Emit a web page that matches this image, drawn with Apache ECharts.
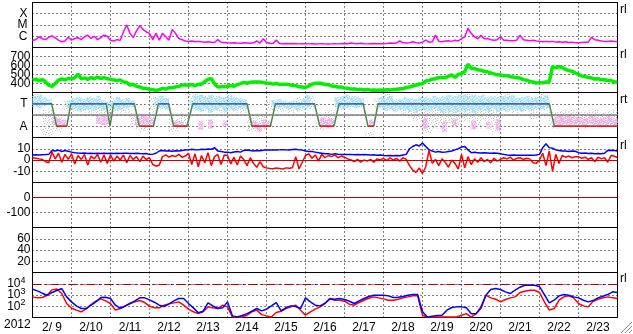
<!DOCTYPE html>
<html><head><meta charset="utf-8">
<script src="https://cdn.jsdelivr.net/npm/echarts@6/dist/echarts.min.js"></script>
<style>html,body{margin:0;padding:0;background:#fff}#c{width:633px;height:334px}</style>
</head><body><div id="c"></div>
<script>
// ---------- data ----------
const yearLabel = '2012';
const dateLabels = ['2/ 9','2/10','2/11','2/12','2/13','2/14','2/15','2/16','2/17','2/18','2/19','2/20','2/21','2/22','2/23'];
const rightTags = ['rl','rl','rt','rl','rl'];

// X-ray flux, 2-hour steps from 2/9 00:00
const xrayFlux = [
4.5e-7,5e-7,9e-7,6e-7,5e-7,8e-7,1.1e-6,7e-7,4.5e-7,3.2e-7,3.8e-7,8e-7,
4.5e-7,6.3e-7,7.5e-7,5e-7,9e-7,1.25e-6,6.3e-7,1e-6,5e-7,7.5e-7,1.25e-6,1e-6,
4.5e-7,3.8e-7,5e-7,4.5e-7,2.5e-6,1e-5,1.8e-6,7.8e-7,3e-6,9e-6,4e-6,2.5e-6,
1.8e-6,5e-7,1.8e-6,4.5e-7,1.8e-6,9e-7,4.5e-7,4e-6,1.8e-6,6.3e-7,5e-7,3.8e-7,
3.5e-7,3.8e-7,3.2e-7,3.5e-7,3.2e-7,3e-7,3.2e-7,3e-7,2.8e-7,5e-7,3e-7,2.8e-7,
2.6e-7,2.5e-7,2.7e-7,2.5e-7,2.4e-7,2.6e-7,2.5e-7,2.4e-7,2.6e-7,3.8e-7,2.5e-7,6e-7,
2.8e-7,2.4e-7,2.3e-7,4.5e-7,2.3e-7,2.2e-7,2.3e-7,2.2e-7,2.3e-7,2.2e-7,2.1e-7,2.2e-7,
2.2e-7,2.1e-7,2.2e-7,2.0e-7,2.1e-7,2.2e-7,2.1e-7,2.0e-7,2.1e-7,2.2e-7,2.1e-7,2.2e-7,
2.3e-7,2.2e-7,2.5e-7,2.3e-7,2.2e-7,2.4e-7,2.2e-7,2.1e-7,2.2e-7,2.3e-7,2.2e-7,2.2e-7,
2.2e-7,2.3e-7,2.5e-7,2.4e-7,2.5e-7,3.8e-7,2.6e-7,2.5e-7,2.7e-7,3.2e-7,2.6e-7,2.5e-7,
3e-7,4.5e-7,3e-7,3.2e-7,1.25e-6,3.5e-7,3.2e-7,3.8e-7,4e-7,3.5e-7,4.5e-7,3.8e-7,
6.3e-7,9e-7,5e-6,1.8e-6,9e-7,6e-7,1.2e-6,6e-7,6.3e-7,5e-7,4.5e-7,5e-7,
9e-7,4.5e-7,4.5e-7,4e-7,4e-7,4.5e-7,1.25e-6,5e-7,4.5e-7,4e-7,4.5e-7,3.8e-7,
3.5e-7,3.2e-7,3.5e-7,3.2e-7,3.5e-7,3e-7,3.2e-7,3e-7,3.2e-7,2.8e-7,3e-7,2.6e-7,
2.6e-7,2.8e-7,3e-7,3e-7,8e-7,5e-7,4.5e-7,3.8e-7,3.5e-7,3.5e-7,3.8e-7,3.5e-7,
3.5e-7];

// Solar wind speed (km/s), 2-hour steps
const windSpeed = [
438,448,430,444,420,380,368,400,438,452,440,458,
448,465,505,452,462,445,468,452,472,455,465,452,
448,438,432,440,418,412,382,392,368,362,348,346,
334,332,322,332,346,338,352,353,362,368,382,383,
380,388,375,392,393,422,445,458,398,360,364,368,
366,378,370,388,398,412,403,414,418,417,416,412,
403,402,393,402,390,392,393,387,378,377,363,362,
356,372,393,402,403,402,388,387,373,370,360,360,
350,347,338,340,333,335,328,334,326,328,326,327,
324,330,328,334,333,342,343,357,360,372,383,394,
398,428,435,448,452,468,467,463,482,495,468,502,
508,533,615,568,567,552,548,532,530,518,507,496,
494,486,487,476,472,463,460,443,437,423,417,406,
407,408,417,418,590,572,588,578,557,543,537,518,
502,483,477,468,462,450,452,443,442,433,432,418,
418];

// IMF sector polarity: vertices (day, +1 = T, -1 = A)
const polarityDay = [0,0.49,0.62,0.88,0.98,1.89,1.99,2.08,2.61,2.74,3.1,3.23,3.49,3.62,3.96,4.11,5.5,5.63,6.1,6.23,7.23,7.37,7.73,7.86,8.48,8.6,8.75,8.86,13.25,13.38,15];
const polaritySector = [1,1,-1,-1,1,1,-1,1,1,-1,-1,1,1,-1,-1,1,1,-1,-1,1,1,-1,-1,1,1,-1,-1,1,1,-1,-1];

// Angle clouds (3-hour bins), in sector units
const cyanLo = [
0.7,0.6,0.8,0.9,null,null,null,0.7,
0.5,0.3,0.4,0.5,0.3,0.6,0.4,0.6,
0.6,0.4,0.5,0.6,0.7,null,null,null,
null,0.8,0.6,0.5,null,null,null,null,
0.9,0.4,0.3,0.5,0.2,0.4,0.6,0.3,
0.5,0.4,0.6,0.5,null,null,null,null,
null,0.8,0.6,0.7,0.5,0.6,0.4,0.6,
0.5,null,null,null,null,null,0.7,0.5,
0.6,0.7,0.6,0.8,null,null,null,0.6,
0.4,0.5,0.3,0.5,0.4,0.3,0.2,0.4,
0.4,0.3,0.6,0.3,0.2,0.3,0.2,0.3,
0.3,0.4,0.2,0.3,0.4,0.3,0.5,0.3,
0.4,0.3,0.5,0.4,0.3,0.5,0.4,0.6,
0.5,0.6,null,null,null,null,null,null,
null,null,null,null,null,null,null,null];
const cyanHi = [
1.7,1.8,1.6,1.4,null,null,null,1.3,
1.5,1.6,1.4,1.6,1.5,1.7,1.3,1.2,
1.2,1.6,1.4,1.5,1.3,null,null,null,
null,1.5,1.7,1.5,null,null,null,null,
1.3,1.7,1.8,1.6,1.8,1.5,1.7,1.6,
1.8,1.6,1.5,1.4,null,null,null,null,
null,1.3,1.4,1.3,1.2,1.3,1.2,1.4,
1.8,null,null,null,null,null,1.6,1.7,
1.8,1.6,1.7,1.5,null,null,null,1.6,
1.5,1.7,1.3,1.4,1.6,1.5,1.4,1.6,
1.6,1.5,1.7,1.6,1.7,1.8,1.7,1.8,
1.8,1.7,1.8,1.7,1.8,1.6,1.7,1.6,
1.7,1.6,1.8,1.5,1.6,1.7,1.5,1.6,
1.6,1.7,null,null,null,null,null,null,
null,null,null,null,null,null,null,null];
const pinkLo = [
null,null,null,null,-0.9,-1.1,-0.9,null,
null,null,null,null,null,-0.8,-0.9,-0.9,
null,null,null,null,null,-0.9,-0.8,-0.9,
-0.8,null,null,null,null,-0.9,-1.0,null,
null,null,-1.3,null,-1.2,null,null,-1.0,
null,null,null,null,null,-1.2,-1.5,-1.1,
-1.0,null,null,null,null,null,null,null,
null,null,null,-1.0,-1.2,-0.9,null,null,
null,null,null,null,null,-1.0,null,null,
null,null,null,null,null,null,null,null,
-1.2,null,null,null,-1.5,null,-1.0,null,
null,null,-1.3,null,null,-1.2,null,-1.4,
null,null,null,null,null,null,null,null,
null,null,null,-1.0,-0.9,-0.8,-0.9,-0.8,
-0.9,-1.0,-0.8,-0.9,-0.9,-1.0,-0.8,-0.9];
const pinkHi = [
null,null,null,null,-0.2,-0.3,-0.4,null,
null,null,null,null,null,-0.1,0.0,-0.3,
null,null,null,null,null,-0.2,0.0,-0.1,
-0.2,null,null,null,null,-0.5,-0.6,null,
null,null,-0.5,null,-0.4,null,null,-0.5,
null,null,null,null,null,-0.5,-0.7,-0.4,
-0.5,null,null,null,null,null,null,null,
null,null,null,-0.2,-0.3,-0.3,null,null,
null,null,null,null,null,-0.4,null,null,
null,null,null,null,null,null,null,null,
-0.3,null,null,null,-0.6,null,-0.3,null,
null,null,-0.5,null,null,-0.6,null,-0.4,
null,null,null,null,null,null,null,null,
null,null,null,-0.1,0.0,-0.1,0.1,-0.2,
-0.2,-0.3,0.0,-0.2,-0.3,-0.2,-0.1,-0.3];
// gray cloud, 6-hour bins
const grayLo = [0.9,-1.9,-1.5,0.4, 0.3,0.2,0.0,-0.4, 0.3,0.2,-1.2,-1.5, 0.2,0.5,-1.5,-1.2, 0.6,0.3,0.4,0.2,
 0.3,0.2,-1.5,-1.3, 0.4,0.3,0.2,0.3, 0.5,-1.3,-0.8,0.6, 0.8,0.7,-1.9,0.6, 0.4,0.3,0.1,-0.5,
 -1.6,-1.2,-0.8,-1.0, -0.6,-1.2,-0.5,-1.5, 0.3,0.2,0.3,-0.4, 0.4,-1.2,-1.0,-0.9, -1.2,-0.8,-1.1,-0.9];
const grayHi = [1.9,0.5,0.1,1.3, 1.4,1.5,1.2,0.8, 1.5,1.3,0.2,-0.2, 1.6,1.4,-0.3,0.0, 1.9,1.8,1.7,1.6,
 1.5,1.3,-0.2,0.1, 1.3,1.2,1.1,1.6, 1.7,-0.3,0.4,1.5, 1.7,1.5,-1.5,1.5, 1.9,1.4,1.2,0.8,
 1.4,1.2,1.5,1.2, 1.9,1.3,1.4,1.2, 1.9,1.5,1.3,1.6, 1.9,0.3,0.4,0.5, 0.3,0.5,0.2,0.4];

// IMF Bt and Bz (nT), 2-hour steps
const btNT = [
4.5,4.6,4.5,4.7,4.8,5.0,8.5,8.0,8.8,7.6,8.4,7.8,
7.0,6.5,6.2,6.0,6.3,5.8,6.0,5.7,6.0,5.8,6.1,5.8,
6.0,5.8,6.1,5.7,5.9,6.0,5.7,5.8,6.1,5.8,5.6,5.8,
5.0,5.2,6.0,8.0,8.5,8.0,8.3,7.8,8.2,8.0,8.5,8.8,
9.0,9.5,9.2,9.0,9.5,9.3,9.8,9.5,11.0,8.0,7.5,7.0,
7.0,6.5,7.2,7.5,7.0,8.5,8.8,8.5,8.0,8.5,8.2,8.6,
9.0,8.8,9.0,8.9,9.0,9.2,9.0,8.8,9.3,9.5,9.0,8.8,
8.0,7.5,7.5,7.0,6.5,6.0,5.5,5.5,5.0,5.5,5.2,5.0,
5.0,4.8,5.0,4.7,4.8,4.6,4.8,4.7,4.5,4.6,4.3,4.4,
4.0,3.8,4.0,3.7,4.0,3.8,4.5,5.0,10.0,12.0,13.5,12.5,
15.0,12.0,9.0,8.0,7.0,7.5,6.8,7.0,7.5,8.0,9.0,10.0,
11.5,12.0,9.0,6.5,6.8,6.5,6.2,6.5,6.3,6.0,6.2,6.0,
5.5,5.0,4.5,4.3,4.4,4.3,4.2,4.3,4.3,4.2,4.3,4.4,
5.0,11.0,14.5,11.0,10.5,9.0,8.5,8.0,8.0,7.5,8.0,7.8,
6.5,6.0,6.3,5.8,6.0,5.5,5.8,5.5,6.0,8.5,8.7,8.5,
8.0];
const bzNT = [
2.0,1.5,1.0,0.5,-1.5,-2.5,7.0,1.0,6.0,-2.0,5.0,0.5,
5.5,-3.5,4.0,0.5,5.0,-4.5,3.5,1.0,5.0,-2.0,4.5,-3.0,
4.5,-1.0,3.5,0.0,4.5,-2.5,4.0,0.5,3.0,-1.5,3.5,0.5,
2.0,-4.0,-5.5,-4.5,3.0,4.5,2.5,4.0,3.0,5.0,2.5,3.5,
6.0,-4.0,5.5,-6.0,4.0,-2.5,6.5,-5.0,3.0,5.0,-4.0,4.5,
4.0,-3.5,2.5,-4.5,3.5,0.5,-5.0,2.0,-3.0,-6.5,-1.5,-6.0,
-7.0,-7.5,-7.8,-7.2,-7.6,-8.0,-7.0,-7.3,-6.8,3.0,-8.0,-2.0,
4.0,5.5,1.5,4.5,-1.0,5.0,2.0,4.0,3.0,4.5,2.0,3.5,
2.5,1.0,0.0,-1.5,0.5,-2.0,0.0,-1.0,0.5,-2.0,1.0,0.0,
1.5,-0.5,2.0,0.0,1.5,-1.0,2.0,0.5,-5.0,-9.0,-11.0,-7.0,
-12.0,-6.0,8.5,-3.0,0.5,-5.0,1.0,-2.0,-6.5,0.0,-3.0,-8.0,
5.0,-7.0,3.0,-4.0,1.0,-2.0,2.0,-1.5,0.5,-2.5,1.5,-1.0,
0.5,2.0,1.0,2.5,0.0,1.5,2.0,0.5,1.5,1.0,-2.5,-3.0,
0.0,6.0,-5.0,8.0,-10.0,5.0,-3.0,4.0,2.5,3.5,2.0,3.0,
3.0,1.5,2.5,0.5,2.0,-1.5,2.5,1.0,2.0,-2.0,4.0,3.5,
2.0];

// Electron flux, 3-hour steps
const electronBlue = [
3280,2330,1450,960,1660,2500,3760,680,
245,108,63,63,124,245,595,640,
485,124,67,101,175,300,556,556,
370,229,124,94,163,300,485,485,
175,72,26,36,200,108,63,72,
245,14,11,15,22,36,63,39,
55,108,214,39,77,108,94,63,
556,245,124,108,187,453,424,485,
395,280,175,300,485,731,960,960,
960,837,595,640,731,960,1100,1100,
32,11,13,15,16,45,77,88,
88,72,22,22,88,960,3060,3760,
3060,1900,1350,2670,4940,7430,7430,7430,
5660,1100,200,345,837,1100,960,680,
556,345,245,322,556,783,1100,1900,
1660];
const electronRed = [
680,556,595,960,2860,3400,1350,175,
67,45,32,58,142,280,453,300,
175,45,63,108,175,245,322,214,
101,72,72,124,163,200,245,124,
55,32,22,32,88,72,63,124,
88,11,11,11,16,32,45,18,
14,11,28,36,63,88,124,45,
16,32,55,88,175,485,345,345,
280,152,124,214,345,520,680,556,
453,345,345,424,556,680,837,837,
16,11,11,11,11,11,11,11,
16,22,11,22,63,960,556,424,
245,395,556,680,1660,2170,2670,2670,
1660,245,45,63,345,680,837,556,
175,108,88,280,424,556,680,556,
485];

const xrayLetters = {'-6':'C','-5':'M','-4':'X'};
const sectorLetters = {'1':'T','-1':'A'};

// ---------- chart ----------
const FONT = 'Liberation Sans';
const tops = [2.5,47.5,92.5,137.5,182.5,227.5,272.5];
const H = 45;

function speckle(color, rows){
  const c = document.createElement('canvas');
  c.width = rows[0].length; c.height = rows.length;
  const g = c.getContext('2d'); g.fillStyle = color;
  rows.forEach((r,y)=>{ for(let x=0;x<r.length;x++){ if(r[x]==='1') g.fillRect(x,y,1,1); } });
  return c;
}
const densePat = ['11110011','01101101','11011110','10111011','11100111','01011101','11110110','10111001'];
const sparsePat = ['10000100','00010000','01000001','00001000','00100010','10000000','00010100','01000000'];
const cyanPat = speckle('#a8e8fc', densePat);
const pinkPat = speckle('#f8b0f0', densePat);
const grayPat = speckle('#c4c4c4', sparsePat);

const dotted = {show:true, lineStyle:{color:'#000', type:[1,3], width:1}};
const grids = tops.map(t => ({left:32.5, width:585, top:t, height:H, show:true, borderColor:'#000', borderWidth:1}));
const xAxes = tops.map((t,i)=>({type:'value', gridIndex:i, min:0, max:15, interval:1,
  axisLabel:{show:false}, axisTick:{show:false}, axisLine:{show:false}, splitLine:dotted}));
xAxes.push({type:'category', gridIndex:6, position:'bottom', data:dateLabels, boundaryGap:true,
  axisLine:{show:false}, axisTick:{show:false}, splitLine:{show:false},
  axisLabel:{interval:0, color:'#000', fontSize:12, fontFamily:FONT, margin:4}});

const lab = (extra) => Object.assign({color:'#000', fontSize:12, fontFamily:FONT, margin:2, showMinLabel:true, showMaxLabel:true}, extra);
const yBase = {axisLine:{show:false}, axisTick:{show:false}, splitLine:dotted};
const yAxes = [
  Object.assign({type:'log', gridIndex:0, min:1e-7, max:1e-3, logBase:10, splitNumber:4,
    axisLabel:lab({margin:5, formatter:v=>xrayLetters[String(Math.round(Math.log10(v)))]||''})}, yBase),
  Object.assign({type:'value', gridIndex:1, min:300, max:800, interval:100,
    axisLabel:lab({formatter:v=>(v>300&&v<800)?String(v):''})}, yBase),
  Object.assign({type:'value', gridIndex:2, min:-2, max:2, interval:1,
    axisLabel:lab({margin:5, formatter:v=>sectorLetters[String(v)]||''})}, yBase),
  Object.assign({type:'value', gridIndex:3, min:-20, max:20, interval:10,
    axisLabel:lab({formatter:v=>(Math.abs(v)<20)?String(v):''})}, yBase),
  Object.assign({type:'value', gridIndex:4, min:-200, max:100, interval:100,
    axisLabel:lab({formatter:v=>(v===0||v===-100)?String(v):''})}, yBase),
  Object.assign({type:'value', gridIndex:5, min:0, max:80, interval:20,
    axisLabel:lab({formatter:v=>(v>0&&v<80)?String(v):''})}, yBase),
  Object.assign({type:'log', gridIndex:6, min:10, max:1e5, logBase:10, splitNumber:4,
    axisLabel:lab({margin:7, formatter:v=>{const e=Math.round(Math.log10(v)); return (e>=2&&e<=4)?'{b|10}{s|'+e+'}':'';},
      rich:{b:{fontSize:12, fontFamily:FONT, color:'#000'}, s:{fontSize:9, fontFamily:FONT, color:'#000', padding:[0,0,7,0]}}})}, yBase)
];

const series = [];
const line = (g, data, color, width, z) => ({type:'line', xAxisIndex:g, yAxisIndex:g, data, showSymbol:false, symbol:'none',
  lineStyle:{color, width}, itemStyle:{color}, connectNulls:false, animation:false, z:z||2, silent:true});
const refLine = (g, y, color, type, width) => ({type:'line', xAxisIndex:g, yAxisIndex:g, data:[], silent:true, z:1,
  markLine:{silent:true, symbol:'none', animation:false, label:{show:false},
    lineStyle:{color, type, width}, data:[{yAxis:y}]}});
function band(g, lo, hi, bin, pat){
  const data = [];
  lo.forEach((l,i)=>{ if(l!==null) data.push([i*bin, l, hi[i], (i+1)*bin]); });
  return {type:'custom', xAxisIndex:g, yAxisIndex:g, data, silent:true, z:1, animation:false,
    encode:{x:[0,3], y:[1,2]},
    renderItem:(p, api)=>{
      const a = api.coord([api.value(0), api.value(2)]);
      const b = api.coord([api.value(3), api.value(1)]);
      return {type:'rect', shape:{x:a[0], y:a[1], width:b[0]-a[0], height:b[1]-a[1]},
        style:{fill:{image:pat, repeat:'repeat'}}};
    }};
}

// panel 1: x-ray
series.push(line(0, xrayFlux.map((v,i)=>[i/12, v]), '#ff00ff', 1.5));
// panel 2: speed
series.push(line(1, windSpeed.map((v,i)=>[i/12, v]), '#00f000', 3.5));
// panel 3: sector
series.push(band(2, grayLo, grayHi, 0.25, grayPat));
series.push(band(2, cyanLo, cyanHi, 0.125, cyanPat));
series.push(band(2, pinkLo, pinkHi, 0.125, pinkPat));
series.push(refLine(2, 0, '#808080', 'solid', 1.5));
series.push(line(2, polarityDay.map((d,i)=>[d, polaritySector[i]]), '#4a8a4a', 1.5, 3));
series.push(line(2, polarityDay.map((d,i)=>[d, polaritySector[i]===1?1:null]), '#4060dd', 1.5, 4));
series.push(line(2, polarityDay.map((d,i)=>[d, polaritySector[i]===-1?-1:null]), '#dd2020', 1.5, 4));
// panel 4: IMF
series.push(refLine(3, 0, '#cc0000', 'solid', 1));
series.push(line(3, btNT.map((v,i)=>[i/12, v]), '#0000ff', 1.5));
series.push(line(3, bzNT.map((v,i)=>[i/12, v]), '#ff0000', 1.5, 3));
// panel 5 reference
series.push(refLine(4, 0, '#c00000', 'solid', 1.2));
// panel 7: electrons
series.push(refLine(6, 1e4, '#b00000', [9,3,3,3], 1.2));
series.push(line(6, electronRed.map((v,i)=>[i/8, v]), '#ff0000', 1.5, 2));
series.push(line(6, electronBlue.map((v,i)=>[i/8, v]), '#0000ff', 1.5, 3));

const tagY = [11, 56, 101, 147, 280];
const graphic = [
  {type:'text', left:4, top:319, style:{text:yearLabel, font:'12px "Liberation Sans"', fill:'#000'}},
  ...rightTags.map((t,i)=>({type:'text', left:620, top:tagY[i]-7, style:{text:t, font:'12px "Liberation Sans"', fill:'#000'}})),
  {type:'line', shape:{x1:621, y1:333, x2:632, y2:322}, style:{stroke:'#888', lineWidth:1}},
  {type:'line', shape:{x1:625, y1:333, x2:632, y2:326}, style:{stroke:'#888', lineWidth:1}},
  {type:'line', shape:{x1:629, y1:333, x2:632, y2:330}, style:{stroke:'#888', lineWidth:1}}
];

const chart = echarts.init(document.getElementById('c'), null, {renderer:'canvas'});
chart.setOption({animation:false, backgroundColor:'#fff', grid:grids, xAxis:xAxes, yAxis:yAxes, series, graphic});
</script></body></html>
